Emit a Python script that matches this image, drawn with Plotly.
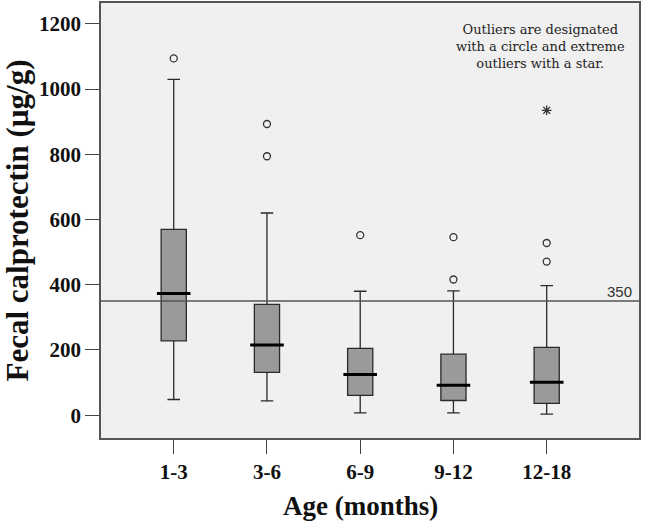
import plotly.graph_objects as go

categories = ["1-3", "3-6", "6-9", "9-12", "12-18"]
q1 = [228, 131, 61, 45, 36]
median = [373, 215, 125, 92, 101]
q3 = [570, 340, 205, 187, 208]
lower_whisker = [48, 44, 7, 7, 3]
upper_whisker = [1030, 620, 380, 381, 397]
outlier_x = ["1-3", "3-6", "3-6", "6-9", "9-12", "9-12", "12-18", "12-18"]
outlier_y = [1094, 893, 794, 552, 546, 416, 528, 471]
extreme_x = ["12-18"]
extreme_y = [935]
reference_value = 350
note_lines = ["Outliers are designated", "with a circle and extreme", "outliers with a star."]

serif = "Liberation Serif"

# plot area in pixels
L, R, T, B = 101, 639, 3, 438
W, H = R - L, B - T

def px_x(x):
    return (x - L) / W

def px_y(y):
    return (B - y) / H

fig = go.Figure()
fig.add_trace(go.Box(
    x=categories, q1=q1, median=median, q3=q3,
    lowerfence=lower_whisker, upperfence=upper_whisker,
    fillcolor="#9a9a9a", line=dict(color="#2a2a2a", width=1.3),
    width=0.27, whiskerwidth=0.5, boxpoints=False, showlegend=False,
    hoverinfo="skip",
))
fig.add_trace(go.Scatter(
    x=categories, y=median, mode="markers",
    marker=dict(symbol="line-ew-open", size=24, color="black",
                line=dict(color="black", width=3)),
    showlegend=False, hoverinfo="skip",
))
fig.add_trace(go.Scatter(
    x=outlier_x, y=outlier_y, mode="markers",
    marker=dict(symbol="circle-open", size=7, color="#333333", line=dict(width=1.3)),
    showlegend=False,
))
fig.add_trace(go.Scatter(
    x=extreme_x, y=extreme_y, mode="markers",
    marker=dict(symbol="asterisk-open", size=8, color="#333333", line=dict(width=1.3)),
    showlegend=False,
))

fig.add_hline(y=reference_value, line=dict(color="#555555", width=1.5))
fig.add_annotation(x=px_x(619), xref="paper", y=reference_value, yref="y",
                   text=str(reference_value), showarrow=False,
                   xanchor="center", yanchor="middle", yshift=10,
                   font=dict(family="Liberation Sans", size=15, color="#333333"))
fig.add_annotation(x=px_x(540), xref="paper", y=px_y(46), yref="paper",
                   text="<br>".join(note_lines), showarrow=False,
                   xanchor="center", yanchor="middle", align="center",
                   font=dict(family="DejaVu Serif", size=13, color="#222222"))
fig.add_annotation(x=px_x(360), xref="paper", y=px_y(506), yref="paper",
                   text="Age (months)", showarrow=False,
                   xanchor="center", yanchor="middle",
                   font=dict(family=serif, size=27, color="#111111", weight="bold"))

fig.update_layout(
    width=650, height=525,
    margin=dict(l=L, r=650 - R, t=T, b=525 - B, autoexpand=False),
    paper_bgcolor="white", plot_bgcolor="#f0f0f0",
    font=dict(family=serif, color="#111111"),
    xaxis=dict(
        type="category", range=[-0.78, 4.99], automargin=False,
        showline=True, mirror=True, linecolor="#555555", linewidth=1.5,
        ticks="outside", ticklen=14, tickcolor="#444444", tickwidth=1.3,
        tickfont=dict(family=serif, size=21, color="#111111", weight="bold"),
        showgrid=False, zeroline=False,
    ),
    yaxis=dict(
        range=[-70, 1264], tickvals=[0, 200, 400, 600, 800, 1000, 1200],
        automargin=False,
        showline=True, mirror=True, linecolor="#555555", linewidth=1.5,
        ticks="outside", ticklen=14, tickcolor="#444444", tickwidth=1.3,
        tickfont=dict(family=serif, size=21, color="#111111", weight="bold"),
        showgrid=False, zeroline=False,
        title=dict(text="Fecal calprotectin (µg/g)",
                   font=dict(family=serif, size=31, color="#111111", weight="bold"),
                   standoff=6),
    ),
)

fig.write_html("out.html", config={"displayModeBar": False},
               post_script="document.body.style.margin='0';document.body.style.overflow='hidden';")
